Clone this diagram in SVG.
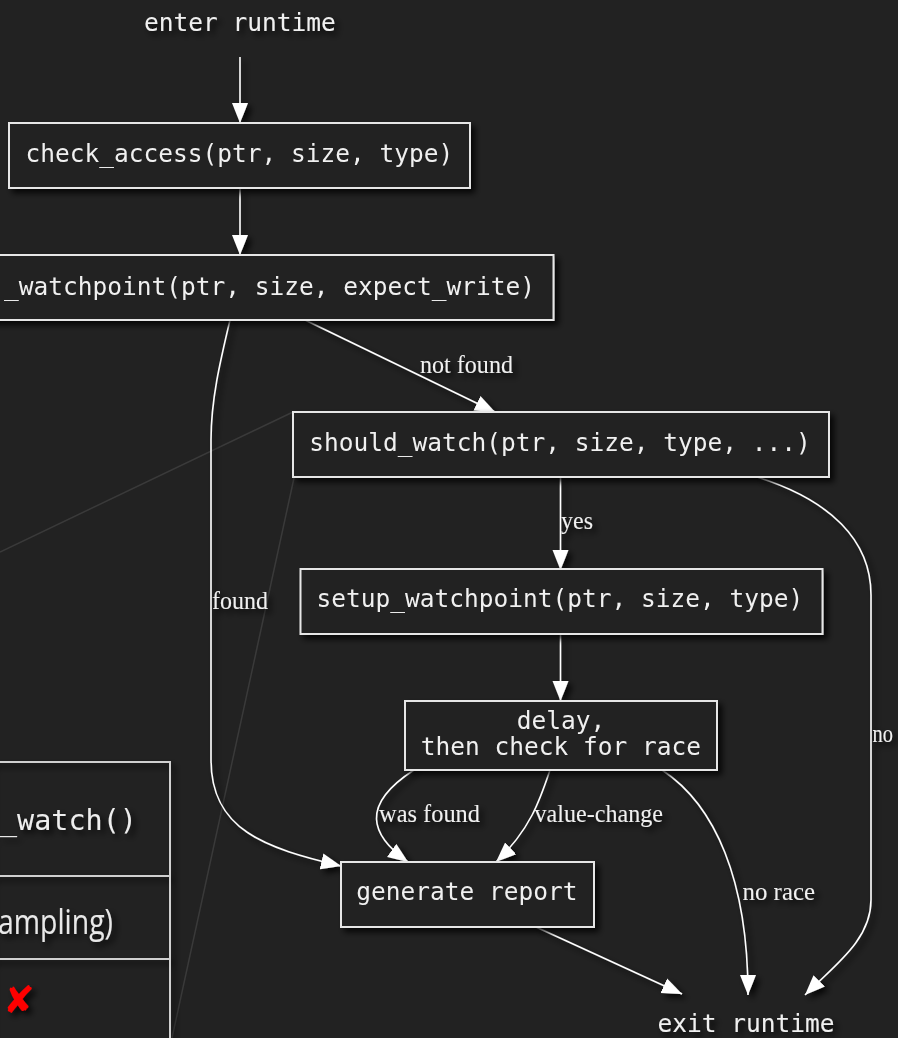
<svg xmlns="http://www.w3.org/2000/svg" width="898" height="1038" viewBox="0 0 898 1038">
<defs>
<filter id="sh" x="-20%" y="-20%" width="140%" height="160%">
<feDropShadow dx="4" dy="4" stdDeviation="3" flood-color="#000" flood-opacity="0.85"/>
</filter>
<marker id="ah" markerUnits="userSpaceOnUse" markerWidth="22" markerHeight="18" viewBox="0 -9 22 18" refX="20" refY="0" orient="auto">
<path d="M0,-8 L20,0 L0,8 z" fill="#ffffff"/>
</marker>
</defs>
<style>
.box{fill:#222222;stroke:#e6e6e6;stroke-width:2}
.mono{font-family:"DejaVu Sans Mono",monospace;font-size:24.5px;fill:#f0f0f0}
.lbl{font-family:"Liberation Serif","Times New Roman",serif;font-size:26px;fill:#f0f0f0}
.edge{fill:none;stroke:#ffffff;stroke-width:1.6;marker-end:url(#ah)}
.guide{fill:none;stroke:#3a3a3a;stroke-width:1.5}
.tbl{fill:none;stroke:#d0d0d0;stroke-width:2}
</style>
<rect x="0" y="0" width="898" height="1038" fill="#222222"/>

<g id="guides">
<path class="guide" d="M293,412 L0,552"/>
<path class="guide" d="M294,478 L172,1038"/>
</g>

<g id="side-table" filter="url(#sh)">
<rect class="tbl" x="-10" y="762" width="180" height="400" fill="#222222"/>
<line class="tbl" x1="-10" y1="876" x2="170" y2="876"/>
<line class="tbl" x1="-10" y1="959" x2="170" y2="959"/>
<text x="137" y="830" text-anchor="end" textLength="137" lengthAdjust="spacingAndGlyphs" style="font-family:'DejaVu Sans Mono',monospace;font-size:29px;fill:#eeeeee">_watch()</text>
<text x="113" y="934" text-anchor="end" textLength="115" lengthAdjust="spacingAndGlyphs" style="font-family:'Open Sans',sans-serif;font-size:35px;fill:#e8e8e8">ampling)</text>
<text x="3" y="1013" style="font-family:'DejaVu Sans',sans-serif;font-size:38px;fill:#ff0000">✘</text>
</g>

<g id="connectors" filter="url(#sh)">
<path class="edge" d="M240,57 L240,123"/>
<path class="edge" d="M240,188 L240,255"/>
<path class="edge" d="M305,320 L495,412"/>
<path class="edge" d="M230,320 C220,362 211,400 211,440 L211,760 C211,830 265,848 341,866"/>
<path class="edge" d="M560.5,477 L560.5,570"/>
<path class="edge" d="M560.5,634 L560.5,701"/>
<path class="edge" d="M757,477 C830,500 871,540 871,595 L871,900 C871,940 835,965 805,995"/>
<path class="edge" d="M414,770 C360,805 370,835 408,862"/>
<path class="edge" d="M550,770 C540,800 530,830 496,862"/>
<path class="edge" d="M662,770 C715,805 748,880 748,995"/>
<path class="edge" d="M536,927 L682,994"/>
<text class="lbl" x="420" y="373" textLength="93" lengthAdjust="spacingAndGlyphs">not found</text>
<text class="lbl" x="212" y="609" textLength="56" lengthAdjust="spacingAndGlyphs">found</text>
<text class="lbl" x="561" y="529" textLength="32" lengthAdjust="spacingAndGlyphs">yes</text>
<text class="lbl" x="872.5" y="742" textLength="20.5" lengthAdjust="spacingAndGlyphs">no</text>
<text class="lbl" x="379" y="822" textLength="101" lengthAdjust="spacingAndGlyphs">was found</text>
<text class="lbl" x="534.5" y="822" textLength="128.5" lengthAdjust="spacingAndGlyphs">value-change</text>
<text class="lbl" x="742.5" y="900" textLength="72.5" lengthAdjust="spacingAndGlyphs">no race</text>
</g>

<g id="enter" filter="url(#sh)">
<text class="mono" x="240" y="31" text-anchor="middle">enter runtime</text>
</g>

<g id="check_access" filter="url(#sh)">
<rect class="box" x="9" y="123" width="461" height="65"/>
<text class="mono" x="239.5" y="162" text-anchor="middle">check_access(ptr, size, type)</text>
</g>

<g id="find_watchpoint" filter="url(#sh)">
<rect class="box" x="-80" y="255" width="633.5" height="65"/>
<text class="mono" x="535" y="295" text-anchor="end">_watchpoint(ptr, size, expect_write)</text>
</g>

<g id="should_watch" filter="url(#sh)">
<rect class="box" x="293" y="412" width="536" height="65"/>
<text class="mono" x="560" y="451" text-anchor="middle">should_watch(ptr, size, type, ...)</text>
</g>

<g id="setup_watchpoint" filter="url(#sh)">
<rect class="box" x="300.5" y="569" width="522" height="65"/>
<text class="mono" x="560" y="607" text-anchor="middle">setup_watchpoint(ptr, size, type)</text>
</g>

<g id="delay" filter="url(#sh)">
<rect class="box" x="405" y="701" width="312" height="69"/>
<text class="mono" x="561" y="728.5" text-anchor="middle">delay,</text>
<text class="mono" x="561" y="755" text-anchor="middle">then check for race</text>
</g>

<g id="generate_report" filter="url(#sh)">
<rect class="box" x="341" y="862" width="253" height="65"/>
<text class="mono" x="467" y="900" text-anchor="middle">generate report</text>
</g>

<g id="exit" filter="url(#sh)">
<text class="mono" x="746" y="1032" text-anchor="middle">exit runtime</text>
</g>
</svg>
